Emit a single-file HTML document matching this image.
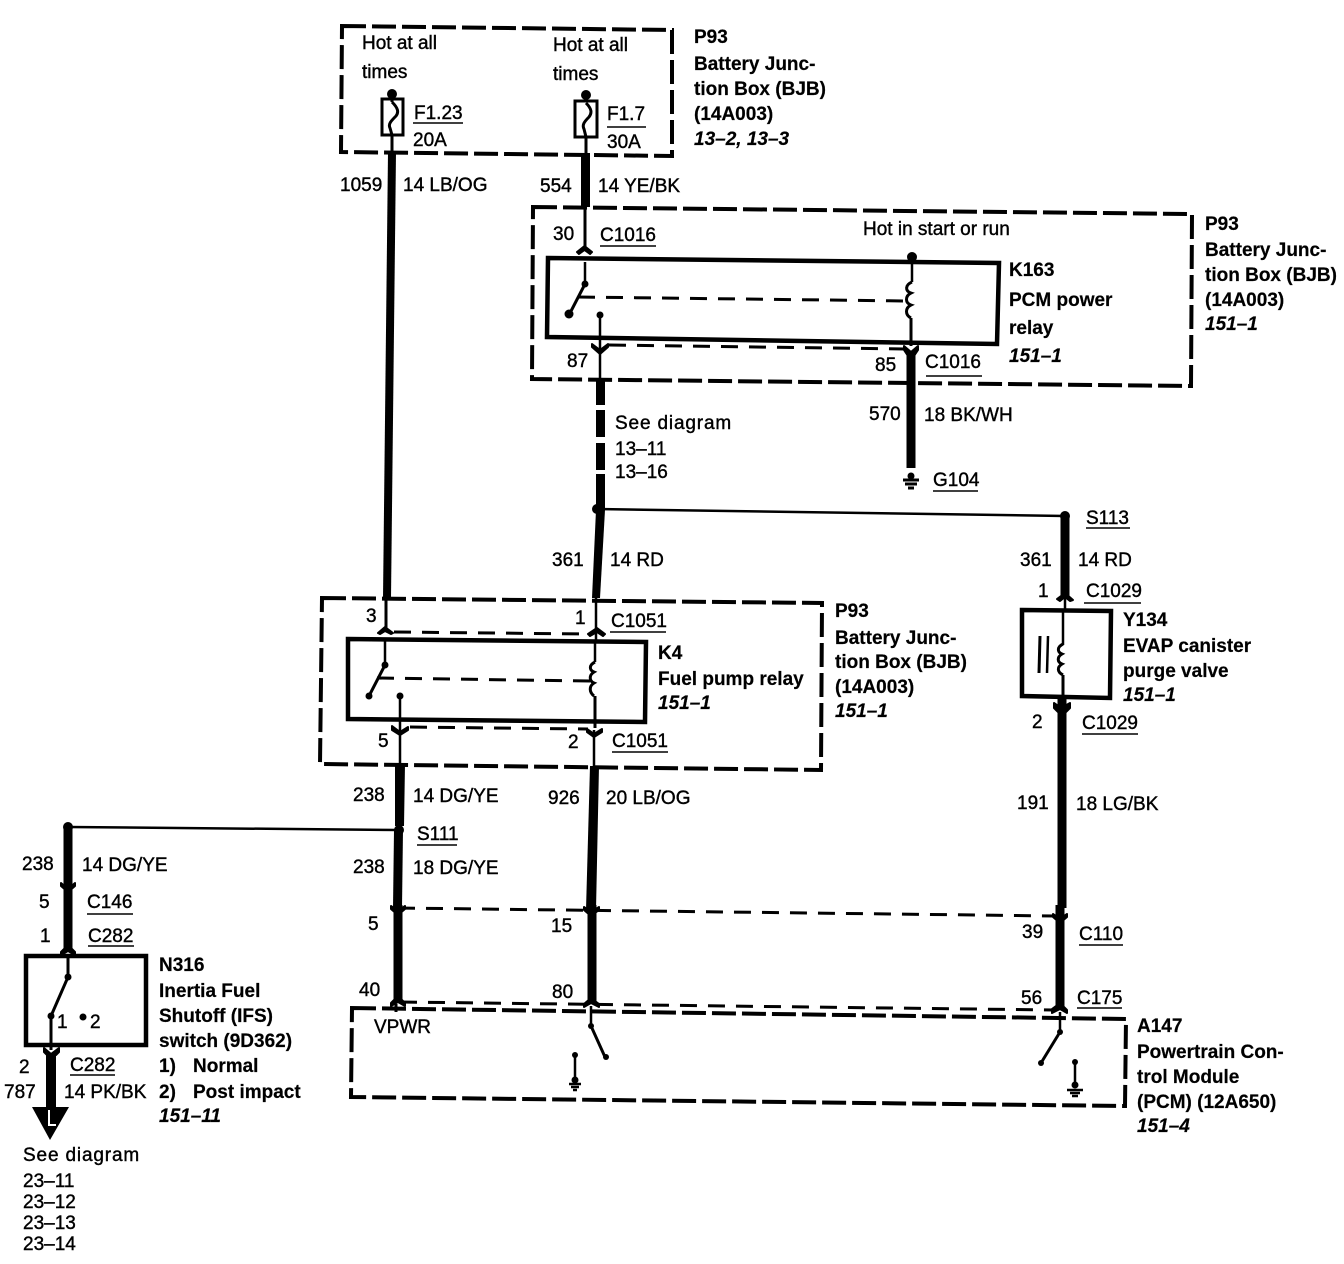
<!DOCTYPE html>
<html><head><meta charset="utf-8"><style>
html,body{margin:0;padding:0;background:#fff}
svg{display:block}
text{font-family:"Liberation Sans",sans-serif;font-size:19px;fill:#000;stroke:#000;stroke-width:.4px}
.b{font-weight:bold;font-size:19px;stroke-width:.2px}
.i{font-weight:bold;font-style:italic;font-size:19px;stroke-width:.2px}
.ls{letter-spacing:.85px}
.d{fill:none;stroke:#000;stroke-width:4;stroke-dasharray:24 6}
.t{fill:none;stroke:#000;stroke-width:2.5}
.m{fill:none;stroke:#000;stroke-width:3}
.w{fill:none;stroke:#000;stroke-width:9}
.u{stroke:#000;stroke-width:1.5}
.box{fill:none;stroke:#000;stroke-width:4.500}
.s{stroke:#000;stroke-width:3;fill:none;stroke-dasharray:17 11}
.a{stroke:#000;stroke-width:2;stroke-linejoin:round}
</style></head><body>
<svg width="1344" height="1264" viewBox="0 0 1344 1264" xmlns="http://www.w3.org/2000/svg">
<!-- dashed enclosures -->
<path class="d" d="M342 26L672 30L672 156L341 152Z"/>
<path class="d" d="M533 207L1192 214L1191 386L532 379Z"/>
<path class="d" d="M322 598L822 603L821 770L320 764Z"/>
<path class="d" d="M352 1008L1126 1019L1125 1106L351 1097Z"/>

<!-- F1.23 fuse -->
<circle cx="392" cy="94" r="5"/>
<path class="m" d="M392 96V102"/>
<rect x="382" y="99" width="21" height="36" class="m"/>
<path class="m" d="M392 102C398 108 399 112 396 116C391 121 388 124 390 128L392 135"/>
<path class="m" d="M392 135V152"/>
<path d="M388 152H396L391 598H383Z"/>
<!-- F1.7 fuse -->
<circle cx="586" cy="95" r="5"/>
<path class="m" d="M586 97V101"/>
<rect x="575" y="101" width="22" height="36" class="m"/>
<path class="m" d="M586 103C592 109 592 113 589 117C584 122 582 125 584 129L586 137"/>
<path class="m" d="M586 137V154"/>
<path d="M581 153H590V207H581Z"/>
<path class="m" d="M585 207V250"/>
<path class="a" d="M577 252L584.500 246L592 252L590 254L584.500 250L579 254Z"/>

<!-- K163 relay -->
<path class="box" d="M548 258L999 263L997 344L547 337Z"/>
<circle cx="912" cy="257" r="5"/>
<path class="t" d="M912 258V282"/>
<path class="m" d="M912 282C905 285 905 291 911 293C905 296 905 303 911 305C905 308 905 315 911 318M911 318V346"/>
<path class="t" d="M585 262V283"/>
<circle cx="585" cy="284" r="3.500"/>
<path class="m" d="M585 284L569 315"/>
<circle cx="569" cy="314" r="4.500"/>
<path class="s" d="M578 297L908 301"/>
<circle cx="600" cy="315" r="3.500"/>
<path class="t" d="M600 315V378"/>
<path class="a" d="M592 344L600 350L608 344L608 347L600 354L592 347Z"/>
<path class="s" d="M609 345L905 349"/>
<path class="a" d="M904 346L911 352L918 346L918 350L914 356H908L904 350Z"/>
<path d="M596 378H605V405H596ZM596 410H605V437H596ZM596 443H605V470H596ZM596 474H605V508H596Z"/>
<path class="w" d="M911 354V468"/>
<!-- ground G104 -->
<circle cx="911" cy="476" r="3.500"/>
<path class="m" d="M903 480H919M905 484H917M908 488H914"/>

<!-- splice S113 -->
<circle cx="597" cy="509" r="5"/>
<path class="t" d="M597 509L1065 516"/>
<circle cx="1065" cy="516" r="5"/>
<path d="M596 510H605L600 598H592Z"/>
<path class="w" d="M1065 516V597"/>

<!-- K4 relay -->
<path class="m" d="M386 598V632"/>
<path class="a" d="M378 633L385 627L393 633L391 634L385 631L380 634Z"/>
<path class="s" d="M394 632L588 634"/>
<path class="a" d="M588 634L597 628L605 634L603 636L597 632L590 636Z"/>
<path class="t" d="M596 598V640"/>
<path class="box" d="M348 639L646 642L645 722L348 719Z"/>
<path class="t" d="M595 642V662"/>
<path class="m" d="M595 662C589 665 589 670 594 672C589 675 589 681 594 683C589 686 589 692 594 696M595 696V728"/>
<path class="t" d="M385 640V664"/>
<circle cx="385" cy="665" r="3.500"/>
<path class="m" d="M385 665L369 696"/>
<circle cx="369" cy="696" r="3.500"/>
<path class="s" d="M377 678L590 681"/>
<circle cx="400" cy="696" r="3.500"/>
<path class="t" d="M400 696V766"/>
<path class="a" d="M392 726L400 732L408 727V730L400 735L392 730Z"/>
<path class="s" d="M410 727L588 729"/>
<path class="a" d="M587 729L594 734L602 729V732L594 737L587 732Z"/>
<path class="t" d="M594 730V766"/>
<path d="M395 764H405L404 826H395Z"/>
<path d="M590 766H599L596 910H586Z"/>

<!-- S111 -->
<circle cx="399" cy="830" r="5"/>
<circle cx="68" cy="827" r="5"/>
<path class="t" d="M68 827L399 830"/>
<path d="M394 830H403L402 908H393Z"/>

<!-- EVAP Y134 -->
<path class="a" d="M1057 599L1065 593L1073 600L1070 601L1065 597L1060 601Z"/>
<path class="t" d="M1065 597V610"/>
<path class="box" d="M1022 610L1111 611L1110 698L1022 696Z"/>
<path class="t" d="M1063 611V645"/>
<path class="m" d="M1063 644C1057 647 1057 652 1062 654C1057 657 1057 662 1062 664C1057 667 1057 672 1063 675M1063 675V697"/>
<path class="m" d="M1040 636L1039 673"/>
<path class="t" d="M1048 636L1047 673"/>
<path class="a" d="M1054 703L1061 708L1070 703V708L1066 712H1058L1054 708Z"/>
<path class="w" d="M1062 697V908"/>

<!-- lower connectors -->
<path class="w" d="M398 905V1000" stroke-width="8"/>
<path class="w" d="M592 905V1002" stroke-width="7"/>
<path class="w" d="M1060 905V1008" stroke-width="7"/>
<path class="s" d="M398 908L1056 916"/>
<path class="a" d="M391 906L398 911L405 906V909L398 915L391 909Z"/>
<path class="a" d="M584 907L591 912L599 907V910L591 916L584 910Z"/>
<path class="a" d="M1053 914L1060 919L1067 914V917L1060 923L1053 917Z"/>
<path class="s" d="M400 1002L1054 1010"/>
<path class="a" d="M391 1003L398 996L405 1003V1006L398 1002L391 1006Z"/>
<path class="a" d="M584 1004L591 998L599 1004V1007L591 1003L584 1007Z"/>
<path class="a" d="M1052 1009L1060 1003L1067 1010V1013L1060 1009L1052 1013Z"/>
<path class="m" d="M396 1004V1012"/>
<path class="t" d="M591 1006V1026"/>
<circle cx="591" cy="1026" r="3"/>
<path class="m" d="M591 1026L605 1057"/>
<circle cx="606" cy="1057" r="3"/>
<circle cx="575" cy="1055" r="3"/>
<path class="t" d="M575 1055V1078"/>
<circle cx="575" cy="1080" r="3.500"/>
<path class="t" d="M569 1084H581M571 1087H579M573 1090H577"/>
<path class="t" d="M1060 1012V1032"/>
<circle cx="1060" cy="1032" r="3"/>
<path class="m" d="M1060 1032L1041 1063"/>
<circle cx="1041" cy="1063" r="3"/>
<circle cx="1075" cy="1062" r="3"/>
<path class="t" d="M1075 1062V1085"/>
<circle cx="1075" cy="1085" r="3.500"/>
<path class="t" d="M1067 1090H1083M1070 1093H1080M1072 1096H1078"/>

<!-- left switch -->
<path class="w" d="M68 828V952"/>
<path class="a" d="M61 883L68 889L75 883V886L68 892L61 886Z"/>
<path class="a" d="M61 952L68 945L75 952V955L68 951L61 955Z"/>
<path class="box" d="M26 956H146V1045H26Z"/>
<path class="m" d="M68 954V977"/>
<circle cx="68" cy="977" r="3.500"/>
<path class="m" d="M68 977L51 1016"/>
<circle cx="51" cy="1016" r="3.500"/>
<circle cx="83" cy="1017" r="3.500"/>
<path class="m" d="M51 1016V1050"/>
<path class="a" d="M44 1048L51 1054L59 1048V1052L56 1055H47L44 1052Z"/>
<path d="M46 1054H56V1110H46Z"/>
<path d="M32 1107H69L50 1140Z"/>
<path d="M48 1110h2v14h6v2h-8z" fill="#fff"/>

<!-- underlines -->
<path class="u" d="M413 123H463M607 127H646M600 246H656M926 376H982M933 491H978M1086 528H1130M610 632H666M1084 603H1141M612 752H668M1082 734H1138M417 845H457M87 914H133M88 946H134M70 1075H115M1079 945H1123M1077 1008H1122"/>

<!-- text -->
<text x="362" y="49">Hot at all</text><text x="362" y="78">times</text>
<text x="553" y="51">Hot at all</text><text x="553" y="80">times</text>
<text x="414" y="119">F1.23</text><text x="413" y="146">20A</text>
<text x="607" y="120">F1.7</text><text x="607" y="148">30A</text>
<text class="b" x="694" y="43">P93</text>
<text class="b" x="694" y="70">Battery Junc-</text>
<text class="b" x="694" y="95">tion Box (BJB)</text>
<text class="b" x="694" y="120">(14A003)</text>
<text class="i" x="694" y="145">13–2, 13–3</text>
<text x="340" y="191">1059</text><text x="403" y="191">14 LB/OG</text>
<text x="540" y="192">554</text><text x="598" y="192">14 YE/BK</text>
<text x="553" y="240">30</text><text x="600" y="241">C1016</text>
<text x="863" y="235">Hot in start or run</text>
<text class="b" x="1205" y="230">P93</text>
<text class="b" x="1205" y="256">Battery Junc-</text>
<text class="b" x="1205" y="281">tion Box (BJB)</text>
<text class="b" x="1205" y="306">(14A003)</text>
<text class="i" x="1205" y="330">151–1</text>
<text class="b" x="1009" y="276">K163</text>
<text class="b" x="1009" y="306">PCM power</text>
<text class="b" x="1009" y="334">relay</text>
<text class="i" x="1009" y="362">151–1</text>
<text x="567" y="367">87</text><text x="875" y="371">85</text><text x="925" y="368">C1016</text>
<text x="869" y="420">570</text><text x="924" y="421">18 BK/WH</text>
<text class="ls" x="615" y="429">See diagram</text>
<text x="615" y="455">13–11</text><text x="615" y="478">13–16</text>
<text x="933" y="486">G104</text>
<text x="1086" y="524">S113</text>
<text x="552" y="566">361</text><text x="610" y="566">14 RD</text>
<text x="1020" y="566">361</text><text x="1078" y="566">14 RD</text>
<text x="1038" y="597">1</text><text x="1086" y="597">C1029</text>
<text class="b" x="1123" y="626">Y134</text>
<text class="b" x="1123" y="652">EVAP canister</text>
<text class="b" x="1123" y="677">purge valve</text>
<text class="i" x="1123" y="701">151–1</text>
<text x="1032" y="728">2</text><text x="1082" y="729">C1029</text>
<text x="366" y="622">3</text><text x="575" y="624">1</text><text x="611" y="627">C1051</text>
<text class="b" x="835" y="617">P93</text>
<text class="b" x="835" y="644">Battery Junc-</text>
<text class="b" x="835" y="668">tion Box (BJB)</text>
<text class="b" x="835" y="693">(14A003)</text>
<text class="i" x="835" y="717">151–1</text>
<text class="b" x="658" y="659">K4</text>
<text class="b" x="658" y="685">Fuel pump relay</text>
<text class="i" x="658" y="709">151–1</text>
<text x="378" y="747">5</text><text x="568" y="748">2</text><text x="612" y="747">C1051</text>
<text x="353" y="801">238</text><text x="413" y="802">14 DG/YE</text>
<text x="548" y="804">926</text><text x="606" y="804">20 LB/OG</text>
<text x="1017" y="809">191</text><text x="1076" y="810">18 LG/BK</text>
<text x="417" y="840">S111</text>
<text x="22" y="870">238</text><text x="82" y="871">14 DG/YE</text>
<text x="353" y="873">238</text><text x="413" y="874">18 DG/YE</text>
<text x="39" y="908">5</text><text x="87" y="908">C146</text>
<text x="40" y="942">1</text><text x="88" y="942">C282</text>
<text x="368" y="930">5</text><text x="551" y="932">15</text>
<text x="1022" y="938">39</text><text x="1079" y="940">C110</text>
<text x="359" y="996">40</text><text x="552" y="998">80</text>
<text x="1021" y="1004">56</text><text x="1077" y="1004">C175</text>
<text x="374" y="1033">VPWR</text>
<text class="b" x="159" y="971">N316</text>
<text class="b" x="159" y="997">Inertia Fuel</text>
<text class="b" x="159" y="1022">Shutoff (IFS)</text>
<text class="b" x="159" y="1047">switch (9D362)</text>
<text class="b" x="159" y="1072">1)</text><text class="b" x="193" y="1072">Normal</text>
<text class="b" x="159" y="1098">2)</text><text class="b" x="193" y="1098">Post impact</text>
<text class="i" x="159" y="1122">151–11</text>
<text x="57" y="1028">1</text><text x="90" y="1028">2</text>
<text x="19" y="1073">2</text><text x="70" y="1071">C282</text>
<text x="4" y="1098">787</text><text x="64" y="1098">14 PK/BK</text>
<text class="ls" x="23" y="1161">See diagram</text>
<text x="23" y="1187">23–11</text><text x="23" y="1208">23–12</text>
<text x="23" y="1229">23–13</text><text x="23" y="1250">23–14</text>
<text class="b" x="1137" y="1032">A147</text>
<text class="b" x="1137" y="1058">Powertrain Con-</text>
<text class="b" x="1137" y="1083">trol Module</text>
<text class="b" x="1137" y="1108">(PCM) (12A650)</text>
<text class="i" x="1137" y="1132">151–4</text>
</svg>
</body></html>
